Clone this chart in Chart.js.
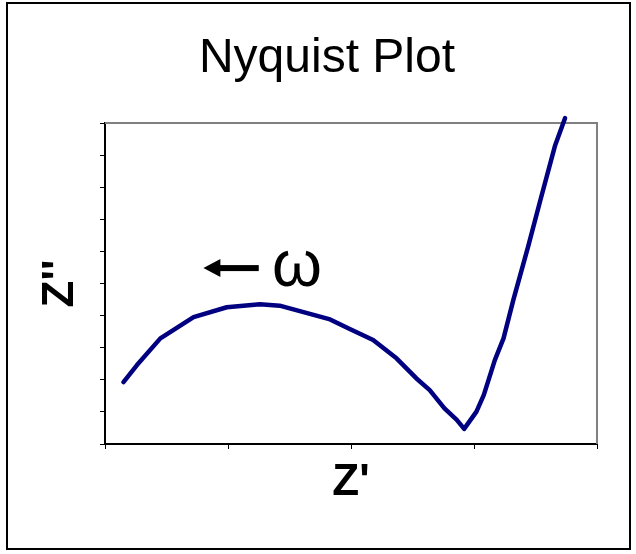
<!DOCTYPE html>
<html>
<head>
<meta charset="utf-8">
<script src="https://cdn.jsdelivr.net/npm/chart.js@4"></script>
<style>
  html, body { margin: 0; padding: 0; background: #fff; }
  #wrap { width: 636px; height: 554px; }
</style>
</head>
<body>
<div id="wrap"><canvas id="nyquistChart"></canvas></div>
<script>
// Impedance trace: real part (Z') and imaginary part (Z'')
const zReal = [0.15, 0.26, 0.45, 0.72, 0.99, 1.26, 1.42, 1.83, 1.99, 2.18, 2.37, 2.53, 2.64, 2.76, 2.86, 2.92, 3.02, 3.08, 3.17, 3.24, 3.32, 3.44, 3.54, 3.66, 3.74];
const zImag = [1.93, 2.46, 3.29, 3.95, 4.26, 4.35, 4.31, 3.88, 3.58, 3.24, 2.67, 2.05, 1.68, 1.11, 0.75, 0.47, 1.01, 1.53, 2.62, 3.29, 4.49, 6.15, 7.60, 9.31, 10.15];

// Axis ranges
const xRange = [0, 4];
const yRange = [0, 10];

// Frequency direction marker (data units)
const arrowFrom = { x: 1.25, y: 5.48 };
const arrowTo = { x: 0.80, y: 5.48 };
const omegaAt = { x: 1.56, y: 4.92 };

const lineColor = "#000080";
const fontFamily = "'Liberation Sans', Arial, sans-serif";

// White background plus the outer frame around the whole figure
const framePlugin = {
  id: "frame",
  beforeDraw(chart) {
    const ctx = chart.ctx;
    ctx.save();
    ctx.fillStyle = "#fff";
    ctx.fillRect(0, 0, chart.width, chart.height);
    ctx.strokeStyle = "#000";
    ctx.lineWidth = 2;
    ctx.strokeRect(7, 3, 623, 546);
    ctx.restore();
  },
  // gray top and right edges of the plot area
  beforeDatasetsDraw(chart) {
    const { ctx, chartArea: a } = chart;
    ctx.save();
    ctx.strokeStyle = "#808080";
    ctx.lineWidth = 2;
    ctx.beginPath();
    ctx.moveTo(a.left, a.top);
    ctx.lineTo(a.right, a.top);
    ctx.lineTo(a.right, a.bottom);
    ctx.stroke();
    ctx.restore();
  },
};

// Arrow pointing toward increasing frequency, with omega label
const omegaPlugin = {
  id: "omega",
  afterDatasetsDraw(chart) {
    const { ctx, scales } = chart;
    const x0 = scales.x.getPixelForValue(arrowFrom.x);
    const x1 = scales.x.getPixelForValue(arrowTo.x);
    const y = scales.y.getPixelForValue(arrowFrom.y);
    const head = 17;
    ctx.save();
    ctx.fillStyle = "#000";
    ctx.fillRect(x1 + head - 2, y - 3, x0 - x1 - head + 2, 6);
    ctx.beginPath();
    ctx.moveTo(x1, y);
    ctx.lineTo(x1 + head, y - 9);
    ctx.lineTo(x1 + head, y + 9);
    ctx.closePath();
    ctx.fill();
    ctx.font = "64px " + fontFamily;
    ctx.textAlign = "center";
    ctx.textBaseline = "alphabetic";
    ctx.fillText("ω", scales.x.getPixelForValue(omegaAt.x), scales.y.getPixelForValue(omegaAt.y));
    ctx.restore();
  },
};

const points = zReal.map((x, i) => ({ x: x, y: zImag[i] }));

new Chart(document.getElementById("nyquistChart"), {
  type: "scatter",
  data: {
    datasets: [
      {
        data: points,
        showLine: true,
        borderColor: lineColor,
        borderWidth: 4.5,
        borderJoinStyle: "round",
        borderCapStyle: "round",
        pointRadius: 0,
        tension: 0,
        clip: false,
      },
    ],
  },
  options: {
    responsive: true,
    maintainAspectRatio: false,
    animation: false,
    layout: { padding: { left: 57, right: 39, top: 10, bottom: 30 } },
    plugins: {
      legend: { display: false },
      tooltip: { enabled: false },
      title: {
        display: true,
        text: "Nyquist Plot",
        color: "#000",
        font: { family: fontFamily, size: 48, weight: "normal", lineHeight: 1 },
        padding: { top: 25, bottom: 40 },
      },
    },
    scales: {
      x: {
        type: "linear",
        min: xRange[0],
        max: xRange[1],
        ticks: { display: false, stepSize: 1 },
        grid: { drawOnChartArea: false, drawTicks: true, tickLength: 5, color: "#000" },
        border: { color: "#000", width: 2 },
        title: {
          display: true,
          text: "Z'",
          color: "#000",
          font: { family: fontFamily, size: 44, weight: "bold", lineHeight: 1 },
          padding: { top: 12, bottom: 19 },
        },
      },
      y: {
        type: "linear",
        min: yRange[0],
        max: yRange[1],
        ticks: { display: false, stepSize: 1 },
        grid: { drawOnChartArea: false, drawTicks: true, tickLength: 5, color: "#000" },
        border: { color: "#000", width: 2 },
        title: {
          display: true,
          text: "Z''",
          color: "#000",
          font: { family: fontFamily, size: 44, weight: "bold", lineHeight: 1 },
          padding: { top: -18, bottom: 17 },
        },
      },
    },
  },
  plugins: [framePlugin, omegaPlugin],
});
</script>
</body>
</html>
